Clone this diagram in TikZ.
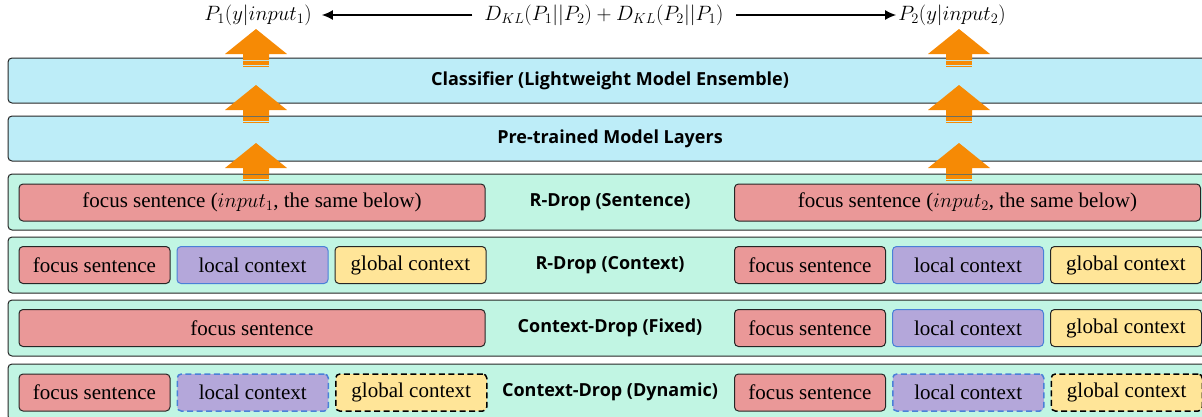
\documentclass[tikz,border=0pt]{standalone}
\usepackage{fontspec}
\setmainfont{Liberation Serif}
\newfontfamily\labfont{Open Sans}
\usetikzlibrary{arrows.meta,positioning}

\definecolor{layerblue}{HTML}{BDEDF8}
\definecolor{rowgreen}{HTML}{C1F5E3}
\definecolor{focusred}{HTML}{EA9898}
\definecolor{localpurple}{HTML}{B4A7DA}
\definecolor{localedge}{HTML}{4A80D8}
\definecolor{globalyellow}{HTML}{FFE598}
\definecolor{arroworange}{HTML}{F68A05}

\begin{document}
\begin{tikzpicture}[x=1pt,y=-1pt]
\tikzstyle{layer}=[draw=black!85, line width=1pt, rounded corners=4pt, fill=layerblue,
  minimum width=1204pt, minimum height=45pt, font=\labfont\bfseries\fontsize{18}{21}\selectfont]
\tikzstyle{row}=[layer, fill=rowgreen, minimum height=56pt]
\tikzstyle{part}=[draw=black!85, line width=1pt, rounded corners=4pt, minimum width=151pt,
  minimum height=37pt, inner sep=0pt, font=\fontsize{21}{24}\selectfont]
\tikzstyle{focus}=[part, fill=focusred]
\tikzstyle{wide}=[focus, minimum width=466pt]
\tikzstyle{local}=[part, fill=localpurple, draw=localedge]
\tikzstyle{global}=[part, fill=globalyellow]
\tikzstyle{dropped}=[dash pattern=on 6pt off 3.5pt, line width=1.5pt]
\tikzstyle{prob}=[font=\fontsize{20}{24}\selectfont, inner ysep=0pt]
\tikzset{orangearr/.pic={
  \fill[arroworange] (0,0) -- (31,25) -- (13,25) -- (13,31) -- (-13,31) -- (-13,25) -- (-31,25) -- cycle;
  \foreach \s in {32.2,34.4,36.6} \fill[arroworange] (-13,\s) rectangle (13,\s+1.3);
}}

\useasboundingbox (0,0) rectangle (1202,416);

% probabilities and the KL term
\node[prob, inner xsep=10pt] (p1) at (258,15) {$P_1(y|input_1)$};
\node[prob, inner xsep=12pt] (kl) at (604,15) {$D_{KL}(P_1{|}{|}P_2)+D_{KL}(P_2{|}{|}P_1)$};
\node[prob, inner xsep=2pt] (p2) at (952,15) {$P_2(y|input_2)$};
\draw[-{Latex[length=11pt,width=10pt]}, line width=1.3pt] (kl.west) -- (p1.east);
\draw[-{Latex[length=11pt,width=10pt]}, line width=1.3pt] (kl.east) -- (p2.west);

% model layers
\node[layer] (cls) at (610,80.5) {Classifier (Lightweight Model Ensemble)};
\node[layer] (plm) at (610,138.5) {Pre-trained Model Layers};

% input variants
\node[row] (rs) at (610,202) {R-Drop (Sentence)};
\node[row] (rc) at (610,265) {R-Drop (Context)};
\node[row] (cf) at (610,328) {Context-Drop (Fixed)};
\node[row] (cd) at (610,392) {Context-Drop (Dynamic)};

\node[wide] (rs1) at (252,202.5) {focus sentence ($input_1$, the same below)};
\node[wide] (rs2) at (967.5,202.5) {focus sentence ($input_2$, the same below)};

\node[focus] (rcf1) at (94.5,265) {focus sentence};
\node[local, right=6pt of rcf1] (rcl1) {local context};
\node[global, right=6pt of rcl1] (rcg1) {global context};
\node[focus] (rcf2) at (810,265) {focus sentence};
\node[local, right=6pt of rcf2] (rcl2) {local context};
\node[global, right=6pt of rcl2] (rcg2) {global context};

\node[wide] (cff1) at (252,328) {focus sentence};
\node[focus] (cff2) at (810,328) {focus sentence};
\node[local, right=6pt of cff2] (cfl2) {local context};
\node[global, right=6pt of cfl2] (cfg2) {global context};

\node[focus] (cdf1) at (94.5,392.5) {focus sentence};
\node[local, dropped, right=6pt of cdf1] (cdl1) {local context};
\node[global, dropped, draw=black, right=6pt of cdl1] (cdg1) {global context};
\node[focus] (cdf2) at (810,392.5) {focus sentence};
\node[local, dropped, right=6pt of cdf2] (cdl2) {local context};
\node[global, dropped, draw=black, right=6pt of cdl2] (cdg2) {global context};

% flow upwards
\foreach \x in {256,959}{
  \pic at (\x,29) {orangearr};
  \pic at (\x,85) {orangearr};
  \pic at (\x,143) {orangearr};
}
\end{tikzpicture}
\end{document}
